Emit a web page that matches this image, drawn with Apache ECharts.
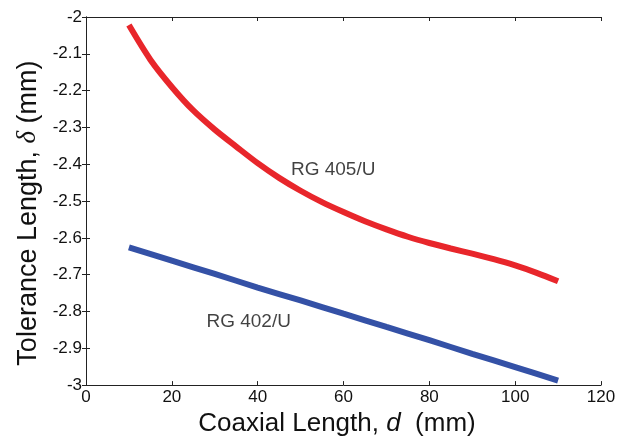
<!DOCTYPE html>
<html>
<head>
<meta charset="utf-8">
<script src="https://cdn.jsdelivr.net/npm/echarts@6/dist/echarts.min.js"></script>
<style>html,body{margin:0;padding:0;background:#fff}#c{width:633px;height:442px}</style>
</head>
<body>
<div id="c"></div>
<script>
// Data
const xRed = [10, 15, 20, 25, 30, 35, 40, 45, 50, 55, 60, 65, 70, 75, 80, 85, 90, 95, 100, 105, 110];
const yRed = [-2.022, -2.116, -2.19, -2.254, -2.306, -2.352, -2.397, -2.437, -2.472, -2.503, -2.53, -2.555, -2.577, -2.597, -2.614, -2.629, -2.643, -2.658, -2.675, -2.695, -2.718];
const xBlue = [10, 20, 30, 40, 50, 60, 70, 80, 90, 100, 110];
const yBlue = [-2.626, -2.662, -2.698, -2.735, -2.770, -2.806, -2.842, -2.878, -2.915, -2.951, -2.988];
const seriesNames = ['RG 405/U', 'RG 402/U'];
const annotationX = [57.6, 37.9];
const annotationY = [-2.416, -2.829];
const xTicks = [0, 20, 40, 60, 80, 100, 120];
const yTicks = [-3, -2.9, -2.8, -2.7, -2.6, -2.5, -2.4, -2.3, -2.2, -2.1, -2];

const FONT = 'Liberation Sans';
const TXT = '#111';
const chart = echarts.init(document.getElementById('c'), null, {renderer: 'canvas'});
const axisLine = {show: true, lineStyle: {color: '#222', width: 1}};
const axisTick = {show: true, inside: true, length: 4, lineStyle: {color: '#222'}};
chart.setOption({
  animation: false,
  backgroundColor: '#fff',
  grid: {left: 86, right: 32, top: 17, bottom: 50, containLabel: false},
  xAxis: [{
    type: 'value', min: xTicks[0], max: xTicks[xTicks.length - 1], interval: 20,
    position: 'bottom', splitLine: {show: false}, axisLine, axisTick,
    axisLabel: {color: TXT, fontFamily: FONT, fontSize: 17, margin: 4},
    name: 'Coaxial Length, {i|d}  (mm)', nameLocation: 'middle', nameGap: 20,
    nameTextStyle: {color: TXT, fontFamily: FONT, fontSize: 26, padding: [0, 13, 0, 0],
      rich: {i: {fontStyle: 'italic', fontFamily: FONT, fontSize: 26, color: TXT}}}
  }, {
    type: 'value', min: xTicks[0], max: xTicks[xTicks.length - 1], interval: 20,
    position: 'top', splitLine: {show: false}, axisLine, axisTick, axisLabel: {show: false}
  }],
  yAxis: [{
    type: 'value', min: yTicks[0], max: yTicks[yTicks.length - 1], interval: 0.1,
    position: 'left', splitLine: {show: false}, axisLine, axisTick,
    axisLabel: {color: TXT, fontFamily: FONT, fontSize: 17, margin: 4,
      formatter: v => String(Math.round(v * 10) / 10)},
    name: 'Tolerance Length, {i|δ} (mm)', nameLocation: 'middle', nameGap: 42, nameRotate: 90,
    nameTextStyle: {color: TXT, fontFamily: FONT, fontSize: 27, padding: [0, 24, 0, 0],
      rich: {i: {fontStyle: 'italic', fontFamily: 'Liberation Serif', fontSize: 27, color: TXT}}}
  }, {
    type: 'value', min: yTicks[0], max: yTicks[yTicks.length - 1], interval: 0.1,
    position: 'right', splitLine: {show: false}, axisLine, axisTick, axisLabel: {show: false}
  }],
  series: [{
    name: seriesNames[0], type: 'line', smooth: 0.3, symbol: 'none',
    lineStyle: {color: '#e8262b', width: 6},
    data: xRed.map((x, i) => [x, yRed[i]])
  }, {
    name: seriesNames[1], type: 'line', smooth: 0.3, symbol: 'none',
    lineStyle: {color: '#3451a6', width: 6},
    data: xBlue.map((x, i) => [x, yBlue[i]])
  }, {
    type: 'scatter', symbolSize: 0, silent: true,
    data: annotationX.map((x, i) => ({value: [x, annotationY[i]], name: seriesNames[i]})),
    label: {show: true, position: 'inside', formatter: p => p.name,
      color: TXT, textBorderWidth: 0, fontFamily: FONT, fontSize: 19}
  }]
});
</script>
</body>
</html>
